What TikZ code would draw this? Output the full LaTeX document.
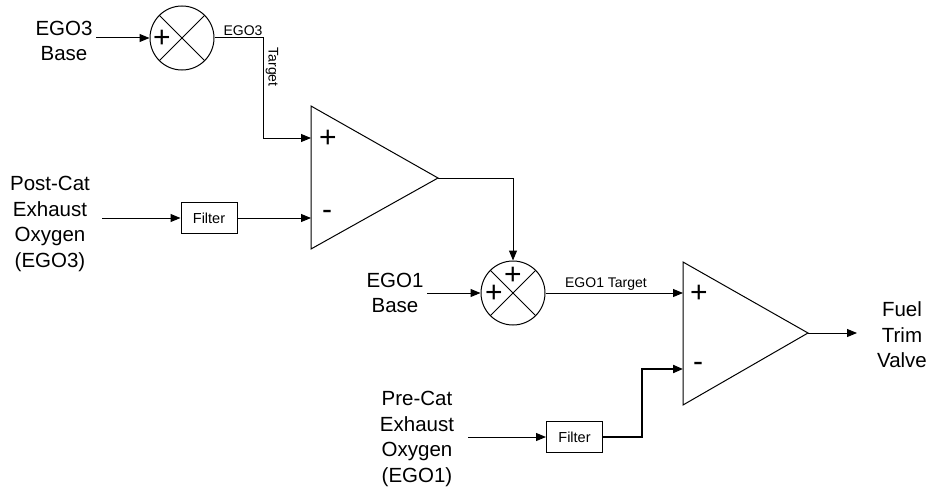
\documentclass[tikz,border=0pt]{standalone}
\usepackage{fontspec}
\setmainfont{Liberation Sans}
\usetikzlibrary{arrows.meta}
\begin{document}
\begin{tikzpicture}[x=1pt,y=-1pt,line width=1pt,
  arr/.style={-{Triangle[length=10pt,width=8pt]}},
  lbl/.style={align=center,font=\fontsize{20.5}{25.5}\selectfont,inner sep=0pt},
  sm/.style={font=\fontsize{14}{16}\selectfont,inner sep=1pt},
  sumj/.style={circle,draw,minimum size=64pt,inner sep=0pt},
  filt/.style={draw,minimum width=56pt,minimum height=31pt,inner sep=0pt,font=\fontsize{14.5}{16}\selectfont},
  sgn/.style={font=\fontsize{30}{30}\selectfont,inner sep=0pt}]
\useasboundingbox (0,0) rectangle (926,487);

% first summing junction
\node[lbl] (ego3base) at (64,41) {EGO3\\Base};
\coordinate (in1) at (96,38);
\node[sumj] (s1) at (182,38) {};
\draw (s1.north west) -- (s1.south east) (s1.north east) -- (s1.south west);
\node[sgn] (s1p) at (162,39) {+};
\draw[arr] (in1) -- (s1.west);

% opamp 1
\coordinate (a1t) at (311,106);
\coordinate (a1b) at (311,249);
\coordinate (a1o) at (438,178);
\coordinate (a1p) at (311,138);
\coordinate (a1m) at (311,217);
\draw (a1t) -- (a1o) -- (a1b) -- cycle;
\node[sgn] (a1ps) at (328,139) {+};
\node[sgn] (a1ms) at (327,215) {-};

\draw[arr] (s1.east) -- ++(49,0) |- (a1p);
\node[sm,anchor=south] (lego3) at (243,37) {EGO3};
\node[sm,rotate=-90] (ltarget) at (272,67) {Target};

% post-cat input
\node[lbl] (postcat) at (50,224) {Post-Cat\\Exhaust\\Oxygen\\(EGO3)};
\coordinate (in3) at (102,218);
\node[filt] (f1) at (209,218) {Filter};
\draw[arr] (in3) -- (f1.west);
\draw[arr] (f1.east) -- (a1m |- f1.east);

% second summing junction
\node[sumj] (s2) at (513,293) {};
\draw (s2.north west) -- (s2.south east) (s2.north east) -- (s2.south west);
\node[sgn] (s2pl) at (494,294) {+};
\node[sgn] (s2pt) at (513,276) {+};
\node[lbl] (ego1base) at (395,293) {EGO1\\Base};
\coordinate (in2) at (427,293);
\draw[arr] (in2) -- (s2.west);
\draw[arr] (a1o) -| (s2.north);

% opamp 2
\coordinate (a2t) at (683,262);
\coordinate (a2b) at (683,405);
\coordinate (a2o) at (808,333);
\coordinate (a2p) at (683,293);
\coordinate (a2m) at (683,369);
\draw (a2t) -- (a2o) -- (a2b) -- cycle;
\node[sgn] (a2ps) at (699,294) {+};
\node[sgn] (a2ms) at (698,367) {-};

\draw[arr] (s2.east) -- (a2p);
\node[sm,anchor=south] (lego1) at (606,292) {EGO1 Target};

\coordinate (out) at (857,333);
\draw[arr] (a2o) -- (out);
\node[lbl] (fuel) at (902,335) {Fuel\\Trim\\Valve};

% pre-cat input
\node[lbl] (precat) at (417,439) {Pre-Cat\\Exhaust\\Oxygen\\(EGO1)};
\coordinate (in4) at (468,437);
\node[filt] (f2) at (574.5,437) {Filter};
\draw[arr] (in4) -- (f2.west);
\draw[arr,line width=2pt] (f2.east) -- (642,437) |- (a2m);
\end{tikzpicture}
\end{document}
